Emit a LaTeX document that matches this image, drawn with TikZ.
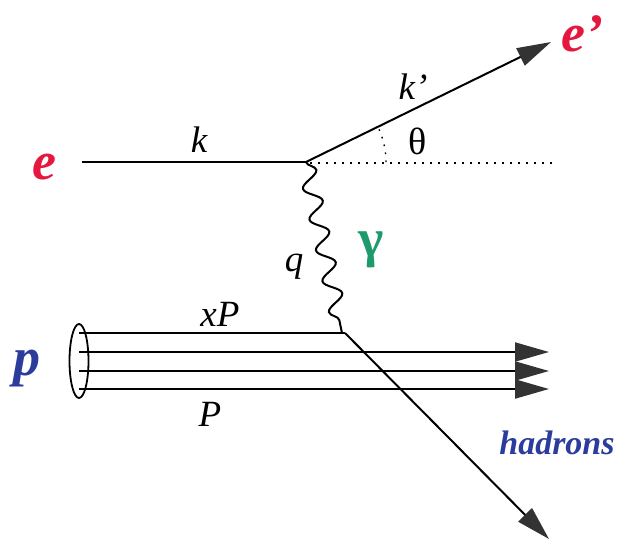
\documentclass[tikz,border=0pt]{standalone}
\usepackage{fontspec}
\setmainfont{Liberation Serif}
\usetikzlibrary{arrows.meta,decorations.pathmorphing}
\definecolor{ered}{HTML}{E5173F}
\definecolor{pblue}{HTML}{2C3C9C}
\definecolor{ggreen}{HTML}{1E9A6C}
\definecolor{tipgray}{HTML}{333333}
\begin{document}
\begin{tikzpicture}[x=1pt,y=-1pt,line width=2pt,
  bigarrow/.style={-{Triangle[length=34pt,width=19pt,color=tipgray]}},
  lab/.style={inner sep=0pt,font=\fontsize{37}{44}\selectfont\itshape},
  partlab/.style={inner sep=0pt,font=\fontsize{54}{60}\selectfont\bfseries\itshape},
  photon/.style={decorate,decoration={snake,amplitude=8.5pt,segment length=31.5pt}},
  dotline/.style={line width=1.4pt,dash pattern=on 1.6pt off 6.4pt}]
\useasboundingbox (0,0) rectangle (620,542);
% vertices and end points
\coordinate (ein) at (82,162);
\coordinate (v1) at (306,162);
\coordinate (eout) at (551,42);
\coordinate (dotend) at (553,163);
\coordinate (v2) at (342,333);
\coordinate (hstart) at (345,333);
\coordinate (hout) at (549,539);
\coordinate (p1s) at (79,333);
\coordinate (p2s) at (79,352);
\coordinate (p3s) at (79,371);
\coordinate (p4s) at (79,389);
\coordinate (p2e) at (549,352);
\coordinate (p3e) at (549,371);
\coordinate (p4e) at (549,389);
% electron lines
\draw (ein) -- (v1);
\draw[bigarrow] (v1) -- (eout);
\draw[dotline] (v1) ++(4,1) -- (dotend);
\draw[dotline] (v1) ++(80,0) arc[start angle=0,end angle=26,radius=80pt];
% photon
\draw[photon] (v1) -- (v2);
% proton
\draw (p1s) -- (hstart);
\draw[bigarrow] (p2s) -- (p2e);
\draw[bigarrow] (p3s) -- (p3e);
\draw[bigarrow] (p4s) -- (p4e);
\draw[line width=1.8pt] (79,361) ellipse[x radius=9.5pt,y radius=37pt];
% hadrons
\draw[bigarrow] (hstart) -- (hout);
% labels
\node[partlab,text=ered] (le) at (44,167) {e};
\node[partlab,text=ered] (leo) at (582,34) {e’};
\node[partlab,text=pblue] (lp) at (27,369) {p};
\node[lab] (lk) at (199,140) {k};
\node[lab] (lkp) at (413,87) {k’};
\node[inner sep=0pt,font=\fontsize{38}{44}\selectfont] (lth) at (418,141) {θ};
\node[lab] (lq) at (294,267) {q};
\node[inner sep=0pt,font=\fontsize{54}{60}\selectfont\bfseries,text=ggreen] (lg) at (371,250) {γ};
\node[lab] (lxp) at (220,314) {xP};
\node[lab] (lP) at (210,414) {P};
\node[inner sep=0pt,font=\fontsize{34}{40}\selectfont\bfseries\itshape,text=pblue] (lh) at (557,443) {hadrons};
\end{tikzpicture}
\end{document}
